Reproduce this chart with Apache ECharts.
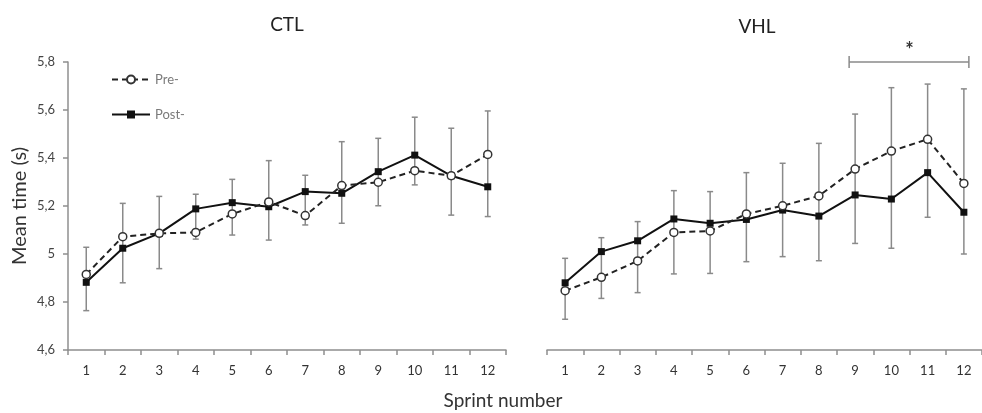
<!DOCTYPE html>
<html>
<head>
<meta charset="utf-8">
<script src="https://cdn.jsdelivr.net/npm/echarts@6/dist/echarts.min.js"></script>
<style>
  html, body { margin: 0; padding: 0; background: #fff; }
  #chart { width: 982px; height: 413px; }
</style>
</head>
<body>
<div id="chart"></div>
<script>
// sprint numbers
var sprints = ['1', '2', '3', '4', '5', '6', '7', '8', '9', '10', '11', '12']
var yTicks = { min: 4.6, max: 5.8, step: 0.2 }

// CTL group
var ctlPre = [4.915, 5.072, 5.086, 5.09, 5.167, 5.217, 5.16, 5.285, 5.299, 5.347, 5.326, 5.415]
var ctlPost = [4.882, 5.024, 5.086, 5.188, 5.214, 5.197, 5.26, 5.253, 5.343, 5.412, 5.326, 5.28]
var ctlErrLow = [4.764, 4.88, 4.939, 5.062, 5.079, 5.058, 5.121, 5.128, 5.201, 5.288, 5.162, 5.156]
var ctlErrHigh = [5.028, 5.211, 5.24, 5.249, 5.311, 5.389, 5.328, 5.468, 5.482, 5.57, 5.524, 5.596]

// VHL group
var vhlPre = [4.847, 4.903, 4.971, 5.09, 5.096, 5.167, 5.201, 5.242, 5.354, 5.429, 5.478, 5.294]
var vhlPost = [4.88, 5.01, 5.055, 5.146, 5.128, 5.144, 5.183, 5.158, 5.246, 5.229, 5.339, 5.174]
var vhlErrLow = [4.728, 4.815, 4.839, 4.917, 4.919, 4.968, 4.989, 4.972, 5.044, 5.024, 5.153, 5.0]
var vhlErrHigh = [4.982, 5.068, 5.135, 5.264, 5.26, 5.339, 5.378, 5.461, 5.583, 5.693, 5.708, 5.688]

// significance bracket: from sprint 9 to 12 at y = 5.8
var sigBracket = [[8, 11, 5.8]]

var FONT = 'Lato, "Open Sans", sans-serif'
var AXIS_GREY = '#8f8f8f'

function errData (lo, hi) {
  return lo.map(function (l, i) { return [i, l, hi[i]] })
}

function renderErr (params, api) {
  var top = api.coord([api.value(0), api.value(2)])
  var bot = api.coord([api.value(0), api.value(1)])
  var cap = 3
  var st = { stroke: '#8a8a8a', lineWidth: 1.5 }
  return {
    type: 'group',
    children: [
      { type: 'line', shape: { x1: top[0], y1: top[1], x2: bot[0], y2: bot[1] }, style: st },
      { type: 'line', shape: { x1: top[0] - cap, y1: top[1], x2: top[0] + cap, y2: top[1] }, style: st },
      { type: 'line', shape: { x1: bot[0] - cap, y1: bot[1], x2: bot[0] + cap, y2: bot[1] }, style: st }
    ]
  }
}

function renderBracket (params, api) {
  var a = api.coord([api.value(0), api.value(2)])
  var b = api.coord([api.value(1), api.value(2)])
  var st = { stroke: '#8a8a8a', lineWidth: 1.5 }
  return {
    type: 'group',
    children: [
      { type: 'line', shape: { x1: a[0] - 6, y1: a[1], x2: b[0] + 5, y2: b[1] }, style: st },
      { type: 'line', shape: { x1: a[0] - 6, y1: a[1] - 6, x2: a[0] - 6, y2: a[1] + 6 }, style: st },
      { type: 'line', shape: { x1: b[0] + 5, y1: b[1] - 6, x2: b[0] + 5, y2: b[1] + 6 }, style: st },
      {
        type: 'text',
        style: {
          x: (a[0] + b[0]) / 2,
          y: a[1] - 1,
          text: '*',
          fill: '#333',
          font: 'bold 20px ' + FONT,
          align: 'center',
          verticalAlign: 'bottom'
        }
      }
    ]
  }
}

function xAxisOpt (gridIndex) {
  return {
    type: 'category',
    gridIndex: gridIndex,
    data: sprints,
    boundaryGap: true,
    axisLine: { lineStyle: { color: AXIS_GREY, width: 1.5 } },
    axisTick: { show: true, length: 5, lineStyle: { color: AXIS_GREY, width: 1.5 } },
    axisLabel: { color: '#333', fontSize: 13, fontFamily: FONT, margin: 14 },
    splitLine: { show: false }
  }
}

function yAxisOpt (gridIndex, visible) {
  return {
    type: 'value',
    gridIndex: gridIndex,
    min: yTicks.min,
    max: yTicks.max,
    interval: yTicks.step,
    name: visible ? 'Mean time (s)' : '',
    nameLocation: 'middle',
    nameGap: 38,
    nameTextStyle: { color: '#333', fontSize: 20, fontFamily: FONT },
    axisLine: { show: visible, lineStyle: { color: AXIS_GREY, width: 1.5 } },
    axisTick: { show: visible, length: 5, lineStyle: { color: AXIS_GREY, width: 1.5 } },
    axisLabel: {
      show: visible,
      color: '#444',
      fontSize: 13,
      fontFamily: FONT,
      margin: 13,
      formatter: function (v) { return String(+v.toFixed(1)).replace('.', ',') }
    },
    splitLine: { show: false }
  }
}

function preSeries (idx, data) {
  return {
    name: 'Pre-',
    type: 'line',
    xAxisIndex: idx,
    yAxisIndex: idx,
    data: data,
    symbol: 'circle',
    symbolSize: 8,
    z: 4,
    lineStyle: { color: '#222', width: 2, type: [6, 4] },
    itemStyle: { color: '#fff', borderColor: '#333', borderWidth: 1.5 }
  }
}

function postSeries (idx, data) {
  return {
    name: 'Post-',
    type: 'line',
    xAxisIndex: idx,
    yAxisIndex: idx,
    data: data,
    symbol: 'rect',
    symbolSize: 7,
    z: 3,
    lineStyle: { color: '#111', width: 2 },
    itemStyle: { color: '#111' }
  }
}

var chart = echarts.init(document.getElementById('chart'))
chart.setOption({
  backgroundColor: '#fff',
  animation: false,
  title: [
    { text: 'CTL', left: 282, top: 10, textAlign: 'center', textStyle: { fontSize: 19, fontWeight: 'normal', color: '#222', fontFamily: FONT } },
    { text: 'VHL', left: 752, top: 12, textAlign: 'center', textStyle: { fontSize: 19, fontWeight: 'normal', color: '#222', fontFamily: FONT } },
    { text: 'Sprint number', left: 498, top: 386, textAlign: 'center', textStyle: { fontSize: 19, fontWeight: 'normal', color: '#333', fontFamily: FONT } }
  ],
  legend: {
    data: ['Pre-', 'Post-'],
    orient: 'vertical',
    left: 106,
    top: 68,
    itemGap: 22,
    itemWidth: 38,
    itemHeight: 10,
    textStyle: { color: '#7a7a7a', fontSize: 13, fontFamily: FONT }
  },
  grid: [
    { left: 68, top: 62, width: 438, height: 288 },
    { left: 547, top: 62, width: 444, height: 288 }
  ],
  xAxis: [xAxisOpt(0), xAxisOpt(1)],
  yAxis: [yAxisOpt(0, true), yAxisOpt(1, false)],
  series: [
    {
      type: 'custom',
      xAxisIndex: 0,
      yAxisIndex: 0,
      renderItem: renderErr,
      data: errData(ctlErrLow, ctlErrHigh),
      z: 1
    },
    {
      type: 'custom',
      xAxisIndex: 1,
      yAxisIndex: 1,
      renderItem: renderErr,
      data: errData(vhlErrLow, vhlErrHigh),
      z: 1
    },
    postSeries(0, ctlPost),
    preSeries(0, ctlPre),
    postSeries(1, vhlPost),
    preSeries(1, vhlPre),
    {
      type: 'custom',
      xAxisIndex: 1,
      yAxisIndex: 1,
      renderItem: renderBracket,
      data: sigBracket,
      clip: false,
      z: 5
    }
  ]
})
</script>
</body>
</html>
